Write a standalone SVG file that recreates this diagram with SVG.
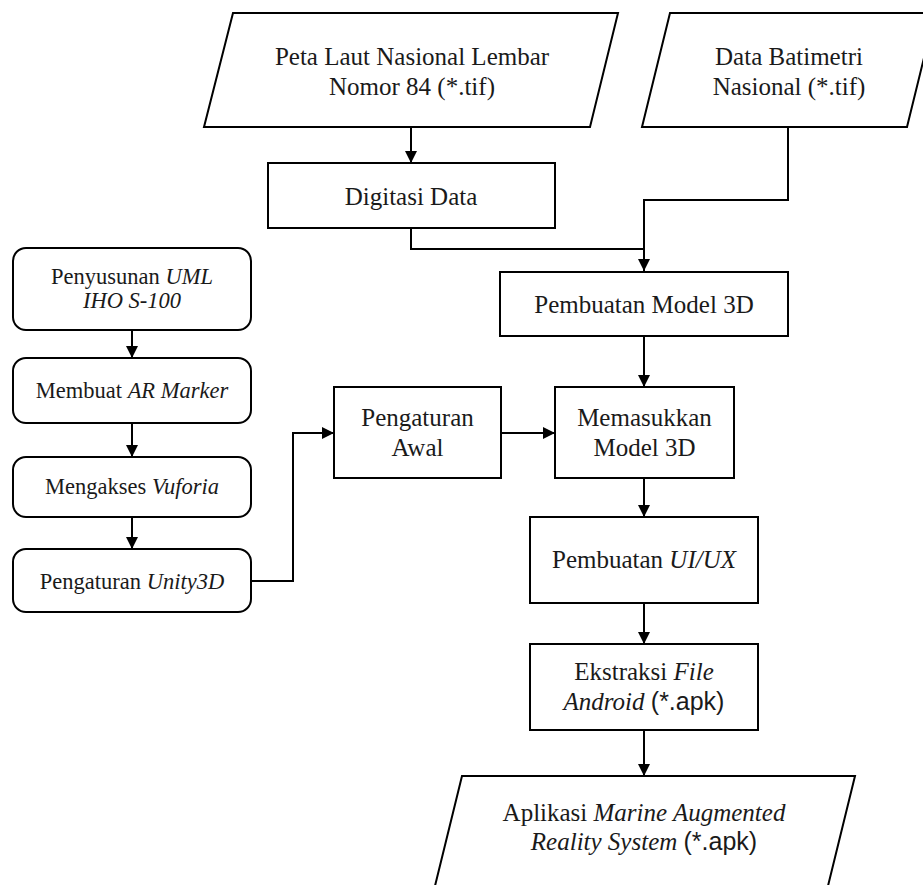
<svg xmlns="http://www.w3.org/2000/svg" width="923" height="885" viewBox="0 0 923 885">
<style>
.s{fill:#fff;stroke:#000;stroke-width:2}
.t{font-family:"Liberation Serif","Times New Roman",serif;font-size:25px;fill:#1a1a1a;text-anchor:middle}
.l{font-size:22.5px}
.i{font-style:italic}
.a{font-family:"Liberation Sans",Arial,sans-serif}
.c{fill:none;stroke:#000;stroke-width:2}
</style>
<defs>
<marker id="ah" markerUnits="userSpaceOnUse" markerWidth="12" markerHeight="12" refX="12" refY="6" orient="auto">
<path d="M0,0 L12,6 L0,12 z" fill="#000"/>
</marker>
</defs>
<rect width="923" height="885" fill="#fff"/>
<g id="connectors">
<path class="c" d="M411,127 V163" marker-end="url(#ah)"/>
<path class="c" d="M411,228 V249 H644"/>
<path class="c" d="M788,127 V200 H644 V271" marker-end="url(#ah)"/>
<path class="c" d="M644,336 V387" marker-end="url(#ah)"/>
<path class="c" d="M501,433 H555" marker-end="url(#ah)"/>
<path class="c" d="M644,478 V517" marker-end="url(#ah)"/>
<path class="c" d="M644,603 V644" marker-end="url(#ah)"/>
<path class="c" d="M644,730 V776" marker-end="url(#ah)"/>
<path class="c" d="M132,330 V358" marker-end="url(#ah)"/>
<path class="c" d="M132,423 V457" marker-end="url(#ah)"/>
<path class="c" d="M132,517 V549" marker-end="url(#ah)"/>
<path class="c" d="M251,581 H293 V433 H334" marker-end="url(#ah)"/>
</g>
<g id="peta">
<polygon class="s" points="233,13 618,13 590,127 204,127"/>
<text class="t" x="412" y="65">Peta Laut Nasional Lembar</text>
<text class="t" x="412" y="95">Nomor 84 (*.tif)</text>
</g>
<g id="batimetri">
<polygon class="s" points="670,13 935,13 907,127 642,127"/>
<text class="t" x="789" y="65">Data Batimetri</text>
<text class="t" x="789" y="95">Nasional (*.tif)</text>
</g>
<g id="digitasi">
<rect class="s" x="268" y="163" width="287" height="65"/>
<text class="t" x="411" y="205">Digitasi Data</text>
</g>
<g id="model3d">
<rect class="s" x="500" y="272" width="288" height="64"/>
<text class="t" x="644" y="313">Pembuatan Model 3D</text>
</g>
<g id="penyusunan">
<rect class="s" x="13" y="248" width="238" height="82" rx="13"/>
<text class="t l" x="132" y="284">Penyusunan <tspan class="i">UML</tspan></text>
<text class="t l i" x="132" y="308">IHO S-100</text>
</g>
<g id="marker">
<rect class="s" x="13" y="358" width="238" height="65" rx="13"/>
<text class="t l" x="132" y="398">Membuat <tspan class="i">AR Marker</tspan></text>
</g>
<g id="vuforia">
<rect class="s" x="13" y="457" width="238" height="60" rx="13"/>
<text class="t l" x="132" y="494">Mengakses <tspan class="i">Vuforia</tspan></text>
</g>
<g id="unity">
<rect class="s" x="13" y="549" width="238" height="63" rx="13"/>
<text class="t l" x="132" y="589">Pengaturan <tspan class="i">Unity3D</tspan></text>
</g>
<g id="awal">
<rect class="s" x="334" y="387" width="167" height="91"/>
<text class="t" x="417.5" y="426">Pengaturan</text>
<text class="t" x="417.5" y="456">Awal</text>
</g>
<g id="memasukkan">
<rect class="s" x="555" y="387" width="179" height="91"/>
<text class="t" x="644.5" y="426">Memasukkan</text>
<text class="t" x="644.5" y="456">Model 3D</text>
</g>
<g id="uiux">
<rect class="s" x="530" y="517" width="228" height="86"/>
<text class="t" x="644" y="568">Pembuatan <tspan class="i">UI/UX</tspan></text>
</g>
<g id="ekstraksi">
<rect class="s" x="530" y="644" width="228" height="86"/>
<text class="t" x="644" y="680">Ekstraksi <tspan class="i">File</tspan></text>
<text class="t" x="644" y="710"><tspan class="i">Android</tspan> <tspan class="a">(*.apk)</tspan></text>
</g>
<g id="aplikasi">
<polygon class="s" points="462,776 855,776 827,890 434,890"/>
<text class="t" x="644" y="821">Aplikasi <tspan class="i">Marine Augmented</tspan></text>
<text class="t" x="644" y="850"><tspan class="i">Reality System</tspan> <tspan class="a">(*.apk)</tspan></text>
</g>
</svg>
